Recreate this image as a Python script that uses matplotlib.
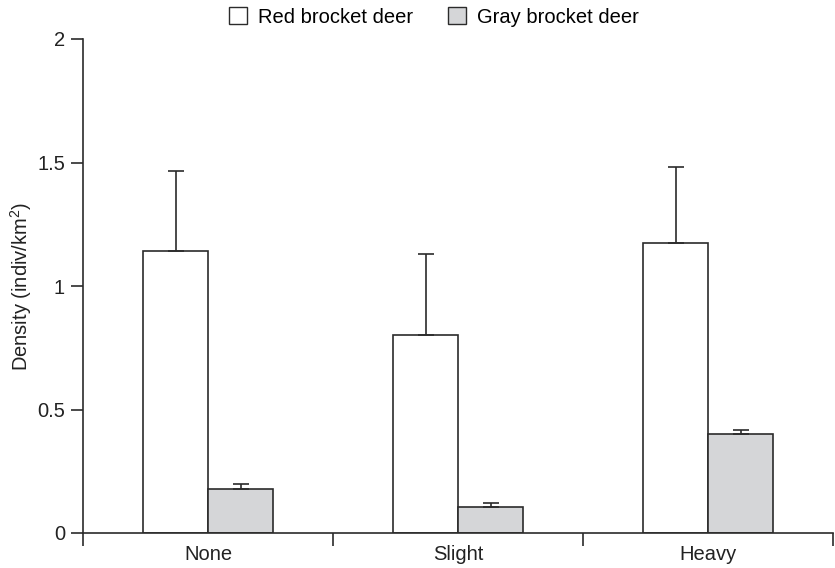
import numpy as np
import matplotlib
matplotlib.use("Agg")
import matplotlib.pyplot as plt
from matplotlib.patches import Patch

plt.rcParams['font.family'] = ['Liberation Sans', 'DejaVu Sans']
plt.rcParams['mathtext.default'] = 'regular'

categories = ["None", "Slight", "Heavy"]
red_mean = [1.14, 0.80, 1.175]
red_err = [0.325, 0.33, 0.305]
gray_mean = [0.18, 0.107, 0.40]
gray_err = [0.02, 0.016, 0.017]
series_names = ["Red brocket deer", "Gray brocket deer"]

edge = "#2b2b2b"
gray_fill = "#d5d6d8"
fs = 14.5

fig = plt.figure(figsize=(8.35, 5.68), dpi=100)
ax = fig.add_axes([83/835, 35/568, 750/835, 494/568])

centers = np.arange(len(categories)) + 0.5
w = 0.26
ax.bar(centers - w/2, red_mean, w, color="white", edgecolor=edge, linewidth=1.2, zorder=2)
ax.bar(centers + w/2, gray_mean, w, color=gray_fill, edgecolor=edge, linewidth=1.2, zorder=2)
ax.errorbar(centers - w/2, red_mean, yerr=[np.zeros(3), red_err], fmt="none",
            ecolor=edge, elinewidth=1.2, capsize=5.5, capthick=1.2, zorder=3)
ax.errorbar(centers + w/2, gray_mean, yerr=[np.zeros(3), gray_err], fmt="none",
            ecolor=edge, elinewidth=1.2, capsize=5.5, capthick=1.2, zorder=3)

ax.set_xlim(0, 3)
ax.set_ylim(0, 2)
ax.spines['top'].set_visible(False)
ax.spines['right'].set_visible(False)
for s in ('left', 'bottom'):
    ax.spines[s].set_color(edge)
    ax.spines[s].set_linewidth(1.2)

ax.set_yticks([0, 0.5, 1, 1.5, 2])
ax.set_yticklabels(["0", "0.5", "1", "1.5", "2"])
ax.set_xticks([0, 1, 2, 3])
ax.set_xticklabels([])
ax.set_xticks(centers, minor=True)
ax.set_xticklabels(categories, minor=True)
ax.tick_params(axis='x', which='major', direction='out', length=9, width=1.2, color=edge)
ax.tick_params(axis='x', which='minor', length=0, pad=8.5, labelsize=fs, labelcolor="#222222")
ax.tick_params(axis='y', direction='out', length=9, width=1.2, color=edge, pad=4,
               labelsize=fs, labelcolor="#222222")

ax.set_ylabel("Density (indiv/km$^2$)", fontsize=fs, color="#222222")
ax.yaxis.set_label_coords(-0.066, 0.5)

handles = [Patch(facecolor="white", edgecolor=edge, linewidth=1.0),
           Patch(facecolor=gray_fill, edgecolor=edge, linewidth=1.0)]
fig.legend(handles, series_names, loc="center", bbox_to_anchor=(434/835, 1 - 17/568),
           ncol=2, frameon=False, fontsize=fs, handlelength=0.9, handleheight=0.9,
           handletextpad=0.55, columnspacing=1.7, borderpad=0)

fig.savefig("out.png", dpi=100)
